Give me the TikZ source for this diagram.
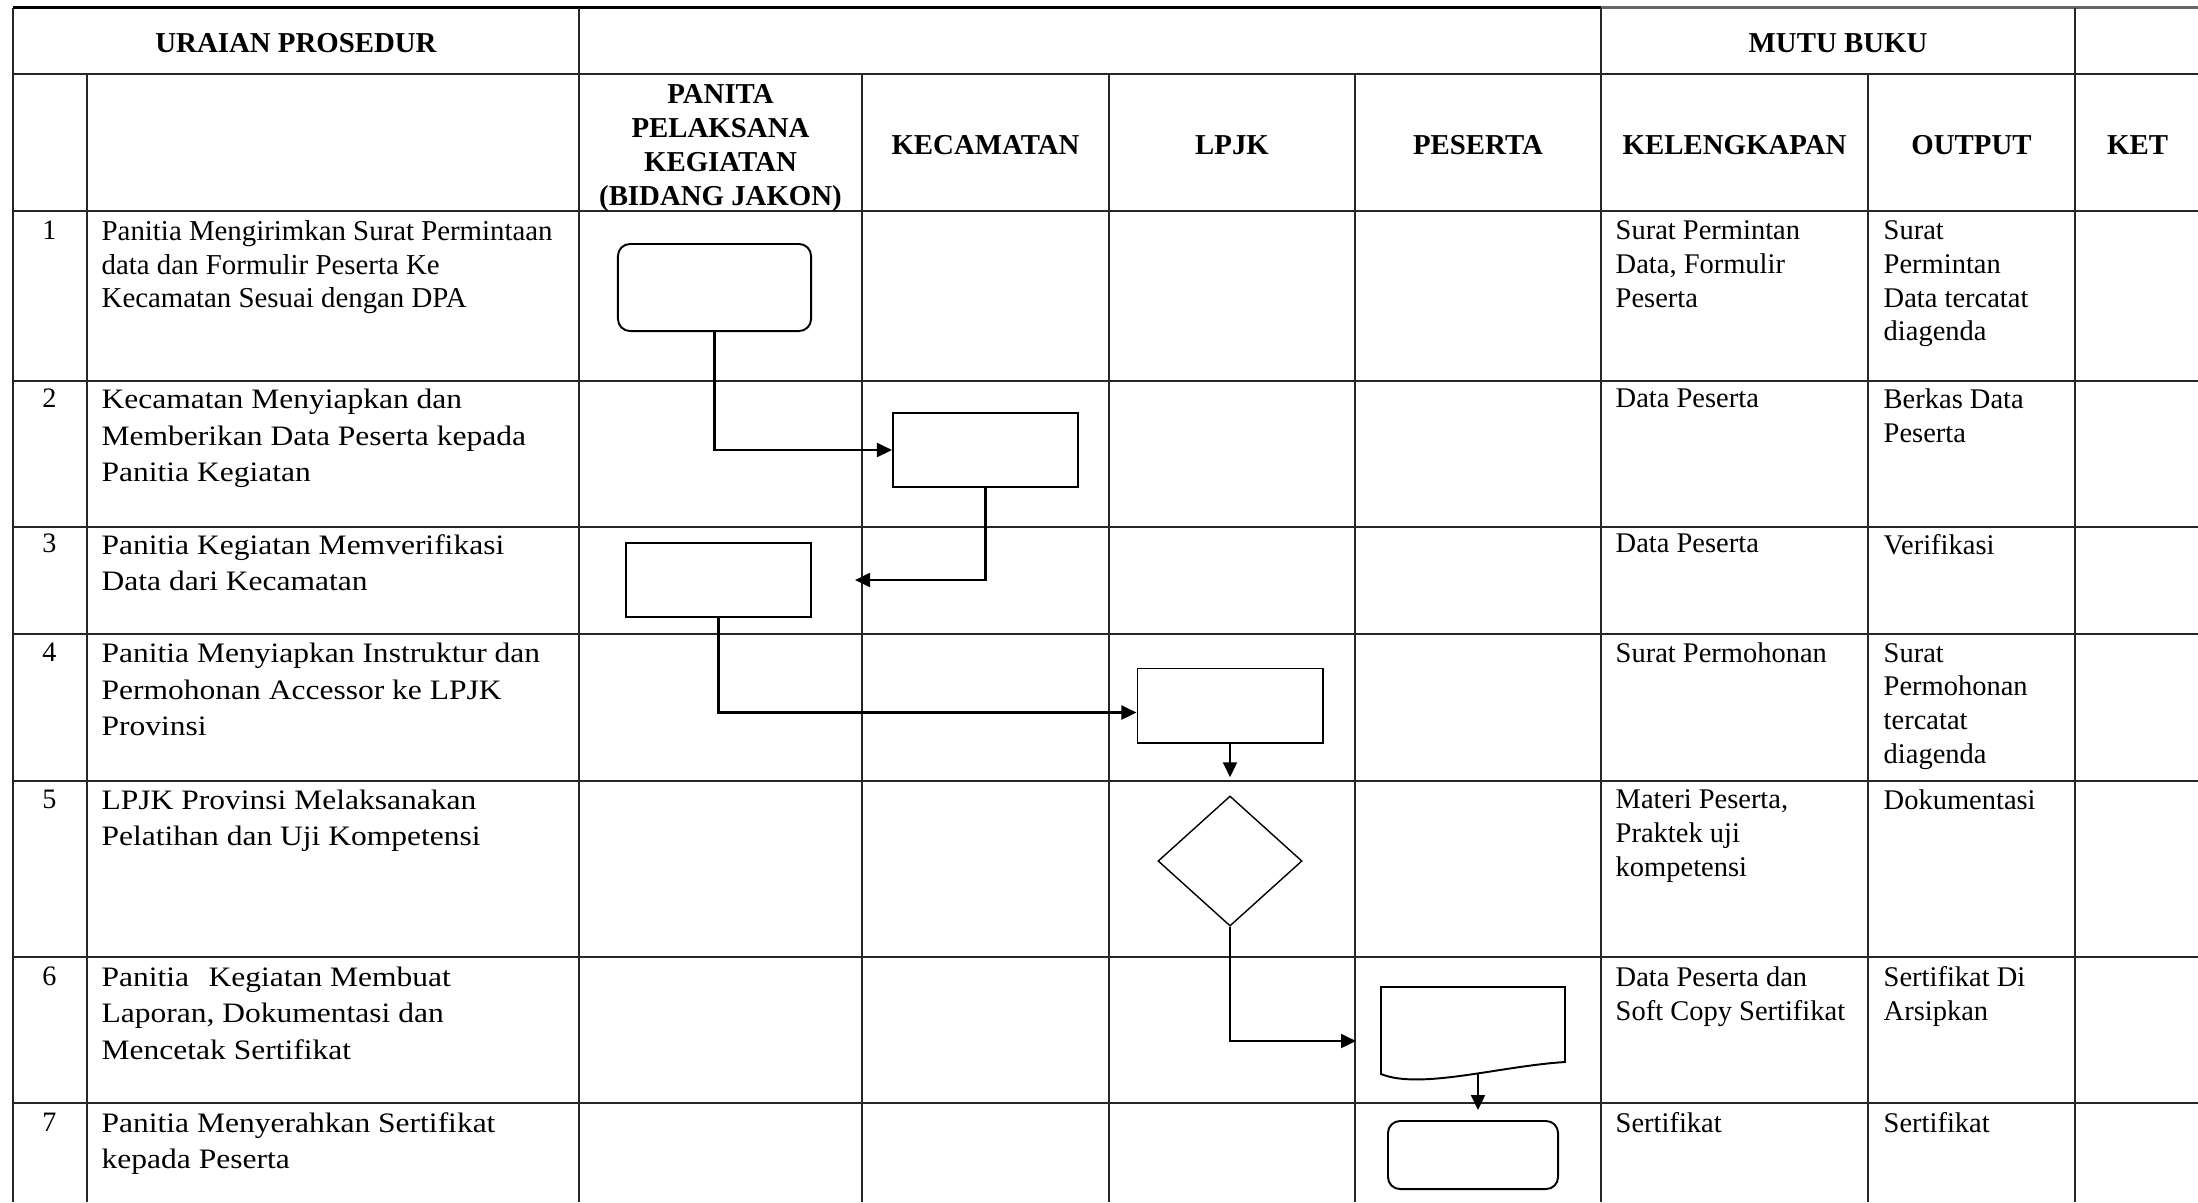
\documentclass[tikz,border=0pt]{standalone}
\usepackage{fontspec}
\setmainfont{Liberation Serif}
\newfontfamily\widened{Liberation Serif}[FakeStretch=1.12]
\usetikzlibrary{arrows.meta,shapes.geometric}

\tikzset{
  rule/.style={line width=0.45pt, black!85},
  box/.style={draw, line width=0.55pt, inner sep=0pt, minimum width=1.85cm, minimum height=0.74cm},
  termbox/.style={box, rounded corners=1.2mm},
  decbox/.style={draw, diamond, line width=0.4pt, inner sep=0pt, minimum width=1.44cm, minimum height=1.30cm},
  flow/.style={->, line width=0.6pt},
  head/.style={align=center, inner sep=0pt, font=\bfseries\fontsize{8.2}{9.7}\selectfont},
  numtxt/.style={anchor=north, inner sep=0pt, font=\fontsize{8}{9}\selectfont},
  firsttxt/.style={anchor=north west, align=left, inner sep=0pt, font=\fontsize{8.2}{9.56}\selectfont},
  desctxt/.style={anchor=north west, align=left, inner sep=0pt, font=\widened\fontsize{8}{10.36}\selectfont},
  notetxt/.style={anchor=north west, align=left, inner sep=0pt, font=\fontsize{8.1}{9.6}\selectfont},
}

\begin{document}
\begin{tikzpicture}[x=0.01cm,y=-0.01cm,>={Triangle[length=1.5mm,width=1.4mm]}]
  \useasboundingbox (0,0) rectangle (2198,1202);

  % table rules
  \draw[rule, line width=0.75pt, black] (12.6,7.5) -- (1601,7.5);
  \draw[rule, line width=0.6pt, black!60] (1601,7.5) -- (2198,7.5);
  \draw[rule] (12.6,74) -- (2198,74);
  \draw[rule] (12.6,211) -- (2198,211);
  \draw[rule] (12.6,381) -- (2198,381);
  \draw[rule] (12.6,527) -- (2198,527);
  \draw[rule] (12.6,634) -- (2198,634);
  \draw[rule] (12.6,781) -- (2198,781);
  \draw[rule] (12.6,957) -- (2198,957);
  \draw[rule] (12.6,1103) -- (2198,1103);
  \draw[rule, line width=0.6pt] (12.6,7.5) -- (12.6,1202);
  \draw[rule] (87,74) -- (87,1202);
  \draw[rule] (579,7.5) -- (579,1202);
  \draw[rule] (862,74) -- (862,1202);
  \draw[rule] (1109,74) -- (1109,1202);
  \draw[rule] (1355,74) -- (1355,1202);
  \draw[rule] (1601,7.5) -- (1601,1202);
  \draw[rule] (1868,74) -- (1868,1202);
  \draw[rule] (2075,7.5) -- (2075,1202);

  % headings
  \node[head] (uraian) at (296,43.5) {URAIAN PROSEDUR};
  \node[head] (mutu) at (1838,43.5) {MUTU BUKU};
  \node[head] (hpanitia) at (720.5,148) {PANITA\\PELAKSANA\\KEGIATAN\\(BIDANG JAKON)};
  \node[head] (hkec) at (985.5,145.5) {KECAMATAN};
  \node[head] (hlpjk) at (1232,145.5) {LPJK};
  \node[head] (hpes) at (1478,145.5) {PESERTA};
  \node[head] (hkel) at (1734.5,145.5) {KELENGKAPAN};
  \node[head] (hout) at (1971.5,145.5) {OUTPUT};
  \node[head] (hket) at (2137.5,145.5) {KET};

  % row numbers
  \node[numtxt] (n1) at (49.5,220) {1};
  \node[numtxt] (n2) at (49.5,388.5) {2};
  \node[numtxt] (n3) at (49.5,533.5) {3};
  \node[numtxt] (n4) at (49.5,642.5) {4};
  \node[numtxt] (n5) at (49.5,789) {5};
  \node[numtxt] (n6) at (49.5,966) {6};
  \node[numtxt] (n7) at (49.5,1112) {7};

  % procedure text
  \node[firsttxt] (d1) at (101,220) {Panitia Mengirimkan Surat Permintaan\\data dan Formulir Peserta Ke\\Kecamatan Sesuai dengan DPA};
  \node[desctxt] (d2) at (101,388.5) {Kecamatan Menyiapkan dan\\Memberikan Data Peserta kepada\\Panitia Kegiatan};
  \node[desctxt] (d3) at (101,533.5) {Panitia Kegiatan Memverifikasi\\Data dari Kecamatan};
  \node[desctxt] (d4) at (101,642.5) {Panitia Menyiapkan Instruktur dan\\Permohonan Accessor ke LPJK\\Provinsi};
  \node[desctxt] (d5) at (101,789) {LPJK Provinsi Melaksanakan\\Pelatihan dan Uji Kompetensi};
  \node[desctxt] (d6) at (101,966) {Panitia\hspace{5.5pt}Kegiatan Membuat\\Laporan, Dokumentasi dan\\Mencetak Sertifikat};
  \node[desctxt] (d7) at (101,1112) {Panitia Menyerahkan Sertifikat\\kepada Peserta};

  % kelengkapan
  \node[notetxt] (k1) at (1615,220) {Surat Permintan\\Data, Formulir\\Peserta};
  \node[notetxt] (k2) at (1615,388.5) {Data Peserta};
  \node[notetxt] (k3) at (1615,533.5) {Data Peserta};
  \node[notetxt] (k4) at (1615,642.5) {Surat Permohonan};
  \node[notetxt] (k5) at (1615,789) {Materi Peserta,\\Praktek uji\\kompetensi};
  \node[notetxt] (k6) at (1615,966) {Data Peserta dan\\Soft Copy Sertifikat};
  \node[notetxt] (k7) at (1615,1112) {Sertifikat};

  % output
  \node[notetxt] (o1) at (1883,220) {Surat\\Permintan\\Data tercatat\\diagenda};
  \node[notetxt] (o2) at (1883,388.5) {Berkas Data\\Peserta};
  \node[notetxt] (o3) at (1883,533.5) {Verifikasi};
  \node[notetxt] (o4) at (1883,642.5) {Surat\\Permohonan\\tercatat\\diagenda};
  \node[notetxt] (o5) at (1883,789) {Dokumentasi};
  \node[notetxt] (o6) at (1883,966) {Sertifikat Di\\Arsipkan};
  \node[notetxt] (o7) at (1883,1112) {Sertifikat};

  % flow symbols
  \node[termbox, minimum width=1.93cm, minimum height=0.87cm] (kirim) at (714.5,287.5) {};
  \node[box] (siap) at (985.5,450) {};
  \node[box] (verif) at (718.5,580) {};
  \node[box] (mohon) at (1230,705.5) {};
  \node[decbox] (uji) at (1230,861) {};
  \draw[line width=0.55pt] (1381,1074) -- (1381,987) -- (1565,987) -- (1565,1062)
    .. controls (1500,1066) and (1420,1090) .. (1381,1074) -- cycle;
  \coordinate (arsipW) at (1381,1041);
  \coordinate (arsipS) at (1478,1074);
  \node[termbox, minimum width=1.7cm, minimum height=0.68cm] (serah) at (1473,1155) {};

  % connectors
  \draw[flow] (kirim.south) |- (siap.west);
  \draw[flow, shorten >=4.3mm] (siap.south) |- (verif.east);
  \draw[flow] (verif.south) |- ([yshift=-0.7mm]mohon.west);
  \draw[flow, shorten >=1.8mm] (mohon.south) -- (uji.north);
  \draw[flow, shorten >=2.5mm] (uji.south) |- (arsipW);
  \draw[flow, shorten >=1mm] (arsipS) -- (arsipS |- serah.north);
\end{tikzpicture}
\end{document}
